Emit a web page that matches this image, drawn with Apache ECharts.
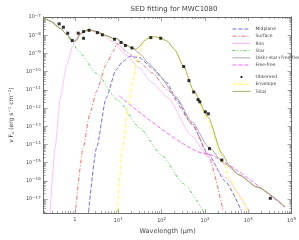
<!DOCTYPE html>
<html><head><meta charset="utf-8">
<script src="https://cdn.jsdelivr.net/npm/echarts@6/dist/echarts.min.js"></script>
<style>html,body{margin:0;padding:0;background:#fff}#c{width:299px;height:240px}</style>
</head><body><div id="c"></div>
<script>
// Wavelengths in micron, fluxes nuFnu in erg s^-1 cm^-2
const starWl   = [0.182, 0.269, 0.457, 0.646, 0.891, 1.2, 3.16, 10, 31.6, 100, 316, 933];
const starF    = [1.0e-7, 6.0e-8, 2.4e-8, 1.05e-8, 3.5e-9, 1.35e-9, 7.9e-11, 2.5e-12, 7.9e-14, 2.5e-15, 7.1e-17, 2.0e-18];

const rimWl    = [0.263, 0.349, 0.457, 0.646, 0.912, 1.30, 2.0, 3.72, 7.41, 15.1, 30.2, 61.7, 135, 501, 1202, 2884, 10700];
const rimF     = [1e-18, 6.6e-15, 3.6e-12, 2.4e-10, 2.95e-9, 1.29e-8, 1.95e-8, 1.29e-8, 4.5e-9, 8.3e-10, 1.58e-10, 2.4e-11, 4.0e-12, 2.9e-14, 1.9e-15, 1.55e-16, 1.9e-18];

const surfWl   = [1.0, 1.55, 2.19, 3.16, 5.25, 7.6, 9.3, 11.2, 15.1, 30.2, 61.7, 135, 501, 1202, 2630];
const surfF    = [1e-18, 6.6e-15, 4.4e-13, 8.3e-12, 2.4e-10, 1.26e-9, 3.6e-9, 2.5e-9, 1.26e-9, 3.5e-10, 8.3e-11, 1.0e-11, 1.55e-13, 2.3e-15, 2.3e-18];

const midWl    = [2.0, 3.16, 5.25, 8.9, 12.6, 18.2, 30.2, 61.7, 135, 209, 501, 1202, 2884, 6918];
const midF     = [1e-18, 6.6e-15, 3.6e-12, 1.26e-10, 3.5e-10, 6.8e-10, 6.0e-10, 1.58e-10, 2.4e-11, 3.6e-12, 1.26e-13, 2.9e-15, 1.0e-16, 2.3e-18];

const ffWl     = [10.7, 1000, 70800];
const ffF      = [4.5e-12, 3.2e-15, 3.5e-18];

const diskWl   = [0.182, 0.269, 0.457, 0.646, 0.891, 1.10, 1.30, 1.70, 2.19, 3.16, 5.25, 8.1, 9.3, 11.2, 13.8, 21.4, 30.2, 51.3, 87.1, 209, 501, 1202, 2884, 6310, 15850, 70800];
const diskF    = [1.0e-7, 6.0e-8, 2.4e-8, 1.1e-8, 4.5e-9, 5.5e-9, 1.12e-8, 1.7e-8, 1.95e-8, 1.58e-8, 9.5e-9, 6.3e-9, 6.6e-9, 4.5e-9, 3.2e-9, 1.95e-9, 1.07e-9, 2.8e-10, 6.3e-11, 4.4e-12, 1.8e-13, 7.4e-15, 8.5e-16, 2.1e-16, 4.6e-17, 3.8e-18];

const envWl    = [9.3, 12.6, 16.6, 21.4, 27.9, 36.3, 46.8, 67.6, 95.5, 135, 200, 324, 550, 1202, 2239, 3800, 5890, 10000];
const envF     = [1e-18, 6.6e-15, 1.0e-12, 2.95e-11, 5.5e-10, 2.95e-9, 6.8e-9, 8.1e-9, 6.8e-9, 4.6e-9, 1.6e-9, 1.86e-10, 8.3e-12, 2.0e-13, 3.5e-15, 1.26e-16, 1.5e-17, 1.9e-18];

const totalWl  = [0.182, 0.269, 0.457, 0.646, 0.891, 1.10, 1.30, 1.70, 2.19, 3.16, 5.25, 8.1, 9.3, 11.2, 13.8, 21.4, 25.7, 31.6, 39.8, 51.3, 67.6, 95.5, 135, 200, 324, 550, 1202, 2455, 3800, 5890, 15850, 70800];
const totalF   = [1.0e-7, 6.0e-8, 2.4e-8, 1.1e-8, 4.5e-9, 5.5e-9, 1.12e-8, 1.7e-8, 1.95e-8, 1.58e-8, 9.5e-9, 6.3e-9, 6.6e-9, 4.5e-9, 3.2e-9, 1.95e-9, 1.7e-9, 2.5e-9, 5.0e-9, 7.4e-9, 8.3e-9, 7.1e-9, 4.7e-9, 1.6e-9, 1.9e-10, 8.9e-12, 3.0e-13, 3.2e-15, 6.3e-16, 2.2e-16, 4.6e-17, 3.8e-18];

const obsWl    = [0.431, 0.541, 0.681, 0.867, 1.19, 1.58, 1.58, 2.12, 3.29, 4.29, 8.18, 11.6, 14.6, 20.7, 56.2, 95.5, 324, 427, 550, 692, 759, 1023, 1202, 1274, 2455, 32360];
const obsF     = [4.2e-8, 2.75e-8, 1.29e-8, 5.1e-9, 1.29e-8, 1.58e-8, 6.8e-9, 1.86e-8, 1.38e-8, 1.05e-8, 6.0e-9, 4.0e-9, 2.7e-9, 2.0e-9, 7.4e-9, 6.8e-9, 1.9e-10, 3.2e-11, 7.6e-12, 2.9e-12, 2.2e-12, 6.2e-13, 4.8e-13, 5.9e-15, 1.4e-15, 1.1e-17];

// axis ranges and tick labels (decade exponents)
const xRange = [0.19, 1e5];
const yRange = [1.7e-18, 1e-7];
const xTickExps = [0, 1, 2, 3, 4, 5];
const yTickExps = [-17, -16, -15, -14, -13, -12, -11, -10, -9, -8, -7];

const L = Math.log10;
const zip = (a, b) => a.map((v, i) => [L(v), L(b[i])]);
const minorVals = (lo, hi) => { const out = []; for (let e = Math.floor(lo) - 1; e <= Math.ceil(hi); e++) for (let k = 2; k <= 9; k++) { const v = e + L(k); if (v > lo && v < hi) out.push(v); } return out; };

const FONT = 'DejaVu Sans';
const TXT = '#444';
const AX = '#666';
const sup = { fontSize: 4, verticalAlign: 'top', padding: [0, 0, 3, 0], fontFamily: FONT, color: TXT };
const expLabel = e => e === 0 ? '1' : '10{s|' + String(e).replace('-', '−') + '}';

const xMin = L(xRange[0]), xMax = L(xRange[1]), yMin = L(yRange[0]), yMax = L(yRange[1]);

function mkAxis(kind, pos, ticks, len, labels) {
  const isX = kind === 'x';
  return {
    type: 'value', min: isX ? xMin : yMin, max: isX ? xMax : yMax, position: pos,
    axisLine: { show: true, onZero: false, lineStyle: { color: AX, width: 0.8 } },
    axisTick: { show: true, inside: true, length: len, customValues: ticks, lineStyle: { color: AX, width: 0.6 } },
    axisLabel: labels ? { show: true, customValues: ticks, fontSize: 5, color: TXT, fontFamily: FONT, margin: isX ? 4 : 3,
      rich: { s: sup }, formatter: v => expLabel(Math.round(v)) } : { show: false },
    splitLine: { show: false }, minorTick: { show: false }
  };
}

const xAxes = [
  Object.assign(mkAxis('x', 'bottom', xTickExps, 4, true), { name: 'Wavelength (μm)', nameLocation: 'middle', nameGap: 13,
    nameTextStyle: { fontSize: 6.5, color: TXT, fontFamily: FONT } }),
  mkAxis('x', 'bottom', minorVals(xMin, xMax), 2, false),
  mkAxis('x', 'top', xTickExps, 4, false),
  mkAxis('x', 'top', minorVals(xMin, xMax), 2, false)
];
const yAxes = [
  Object.assign(mkAxis('y', 'left', yTickExps, 4, true), { name: 'ν F{b|ν} (erg s{s|−1} cm{s|−2})', nameLocation: 'middle', nameGap: 25, nameRotate: 90,
    nameTextStyle: { fontSize: 6, color: TXT, fontFamily: FONT, rich: { s: sup, b: { fontSize: 4, verticalAlign: 'bottom', padding: [3, 0, 0, 0], color: TXT, fontFamily: FONT } } } }),
  mkAxis('y', 'left', minorVals(yMin, yMax), 2, false),
  mkAxis('y', 'right', yTickExps, 4, false),
  mkAxis('y', 'right', minorVals(yMin, yMax), 2, false)
];

const chart = echarts.init(document.getElementById('c'), null, { renderer: 'canvas' });
const line = (name, wl, f, color, type, width, z) => ({
  name, type: 'line', data: zip(wl, f), symbol: 'none', showSymbol: false,
  smooth: 0.2, smoothMonotone: 'x', clip: true,
  lineStyle: { color, type, width: width || 0.8 }, itemStyle: { color }, z: z || 2,
  xAxisIndex: 0, yAxisIndex: 0
});

const legendCommon = { orient: 'vertical', left: 232, padding: 0, itemWidth: 18, itemHeight: 4.4, itemGap: 2.2,
  lineStyle: { width: 0.9 }, itemStyle: { opacity: 0 },
  textStyle: { fontSize: 4.5, color: TXT, fontFamily: FONT } };

const dotIcon = 'path://M0,0M10,10M2.6,5A2.4,2.4,0,1,0,7.4,5A2.4,2.4,0,1,0,2.6,5Z';

chart.setOption({
  animation: false,
  backgroundColor: '#fff',
  title: { text: 'SED fitting for MWC1080', left: 169, top: 1, textAlign: 'center',
    textStyle: { fontSize: 7, fontWeight: 'normal', color: TXT, fontFamily: FONT } },
  grid: { left: 43, right: 4, top: 17, bottom: 26 },
  xAxis: xAxes,
  yAxis: yAxes,
  legend: [
    Object.assign({ top: 26.5, data: ['Midplane', 'Surface', 'Rim', 'Star', 'Disk+star+free-free', 'Free-free'] }, legendCommon),
    Object.assign({ top: 74.5, data: [{ name: 'Observed', icon: dotIcon, itemStyle: { color: '#000', opacity: 1 } }, 'Envelope', 'Total'] }, legendCommon)
  ],
  series: [
    line('Midplane', midWl, midF, '#5a5aff', [4, 2], 0.9),
    line('Surface', surfWl, surfF, '#ff5a5a', [4, 2, 1, 2], 0.9),
    line('Rim', rimWl, rimF, '#ffa8f4', 'solid', 0.7),
    line('Star', starWl, starF, '#44cc44', [3, 2, 1, 2, 1, 2], 0.9),
    line('Disk+star+free-free', diskWl, diskF, '#a0a0a0', 'solid', 0.9, 3),
    line('Free-free', ffWl, ffF, '#ff55ff', [4, 2], 0.9),
    { name: 'Observed', type: 'scatter', data: zip(obsWl, obsF), symbol: 'rect', symbolSize: 3,
      itemStyle: { color: '#000' }, z: 6, xAxisIndex: 0, yAxisIndex: 0 },
    line('Envelope', envWl, envF, '#ffff33', [4, 2], 0.9),
    line('Total', totalWl, totalF, '#a3a35a', 'solid', 0.9, 4)
  ]
});
</script></body></html>
